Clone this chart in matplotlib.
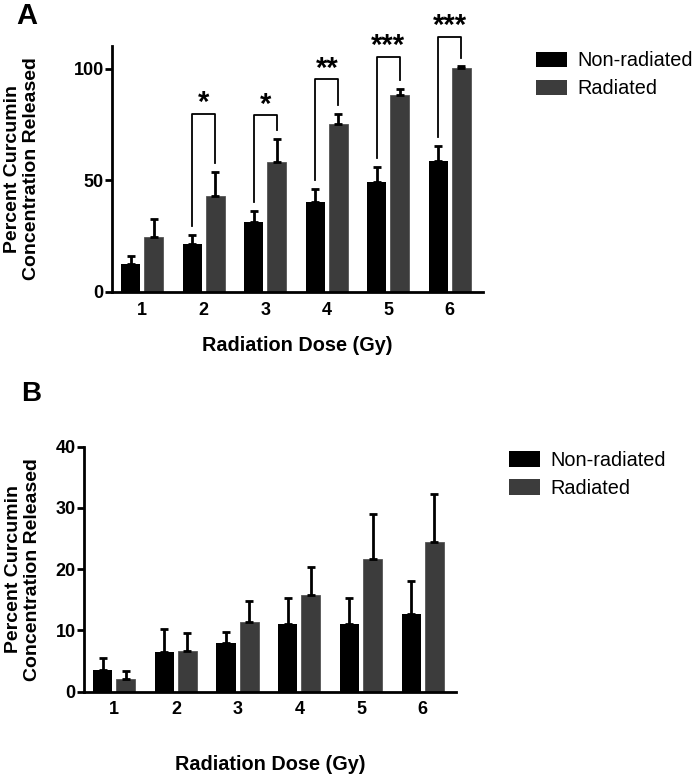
import numpy as np
import matplotlib
matplotlib.use("Agg")
import matplotlib.pyplot as plt
from matplotlib.patches import Patch

plt.rcParams['font.family'] = ['Liberation Sans', 'DejaVu Sans']

# doses on the x axis
doses = [1, 2, 3, 4, 5, 6]
series_names = ["Non-radiated", "Radiated"]

# panel A: mean and upper SD
a_non = [12.6, 21.5, 31.2, 40.5, 49.3, 58.7]
a_non_err = [3.5, 4.2, 5.1, 5.5, 6.9, 6.8]
a_rad = [24.8, 42.9, 58.2, 75.3, 88.5, 100.3]
a_rad_err = [8.1, 10.9, 10.4, 4.7, 2.5, 0.8]

# significance brackets in panel A (only doses 2-6)
sig_doses = [2, 3, 4, 5, 6]
sig_labels = ["*", "*", "**", "***", "***"]
sig_height = [80, 79.4, 95.6, 105.5, 114.5]

# panel B
b_non = [3.5, 6.4, 7.9, 11.0, 11.0, 12.7]
b_non_err = [2.0, 3.9, 1.9, 4.3, 4.3, 5.4]
b_rad = [2.0, 6.6, 11.3, 15.8, 21.7, 24.4]
b_rad_err = [1.3, 2.9, 3.5, 4.6, 7.3, 7.9]

col_non = "#000000"
col_rad = "#3c3c3c"
bw = 0.31
off = 0.187


def draw_panel(ax, non, non_err, rad, rad_err, ylim, yticks):
    x = np.array(doses, dtype=float)
    ax.bar(x - off, non, bw, color=col_non, zorder=2)
    ax.bar(x + off, rad, bw, color=col_rad, edgecolor="#555555", linewidth=0.6, zorder=2)
    for xs, v, e in [(x - off, non, non_err), (x + off, rad, rad_err)]:
        ax.errorbar(xs, v, yerr=[np.zeros(len(v)), e], fmt="none", ecolor="black",
                    elinewidth=2, capsize=3, capthick=2, zorder=3)
    ax.set_xlim(0.51, 6.54)
    ax.set_ylim(*ylim)
    ax.set_yticks(yticks)
    ax.set_xticks(doses)
    ax.tick_params(axis="x", length=0, pad=7)
    ax.tick_params(axis="y", length=5, width=2, pad=1)
    for lab in ax.get_xticklabels() + ax.get_yticklabels():
        lab.set_fontweight("bold")
        lab.set_fontsize(13)
    for s in ["top", "right"]:
        ax.spines[s].set_visible(False)
    for s in ["left", "bottom"]:
        ax.spines[s].set_linewidth(2)
    ax.set_ylabel("Percent Curcumin\nConcentration Released", fontsize=14,
                  fontweight="bold", linespacing=1.15)
    ax.yaxis.label.set_va("center")
    ax.set_xlabel("Radiation Dose (Gy)", fontsize=14.3, fontweight="bold")
    ax.xaxis.label.set_va("center")


fig = plt.figure(figsize=(6.97, 7.79), dpi=100)

axA = fig.add_axes([0.1607, 0.6252, 0.5323, 0.3158])
draw_panel(axA, a_non, a_non_err, a_rad, a_rad_err, (0, 110.3), [0, 50, 100])
axA.yaxis.set_label_coords(-0.243, 0.5)
axA.xaxis.set_label_coords(0.5, -0.2195)

for d, lab, h in zip(sig_doses, sig_labels, sig_height):
    i = doses.index(d)
    left_end = a_non[i] + a_non_err[i] + 4
    right_end = a_rad[i] + a_rad_err[i] + 4
    axA.plot([d - off, d - off, d + off, d + off], [left_end, h, h, right_end],
             color="black", lw=1.3, clip_on=False, zorder=4)
    axA.text(d, h + 1, lab, ha="center", va="baseline", fontsize=21,
             fontweight="bold", clip_on=False)

axB = fig.add_axes([0.1205, 0.1121, 0.5337, 0.3145])
draw_panel(axB, b_non, b_non_err, b_rad, b_rad_err, (0, 40), [0, 10, 20, 30, 40])
axB.yaxis.set_label_coords(-0.164, 0.5)
axB.xaxis.set_label_coords(0.5, -0.298)

handles = [Patch(facecolor=col_non), Patch(facecolor=col_rad)]
for ax, pos in [(axA, (0.7686, 0.934)), (axB, (0.730, 0.421))]:
    fig.legend(handles, series_names, loc="upper left", bbox_to_anchor=pos,
               frameon=False, fontsize=14.3, handlelength=1.56, handleheight=0.85,
               handletextpad=0.55, labelspacing=0.45, borderpad=0, borderaxespad=0)

fig.text(0.024, 0.997, "A", fontsize=21, fontweight="bold", va="top")
fig.text(0.031, 0.511, "B", fontsize=20, fontweight="bold", va="top")

fig.savefig("out.png", dpi=100)
